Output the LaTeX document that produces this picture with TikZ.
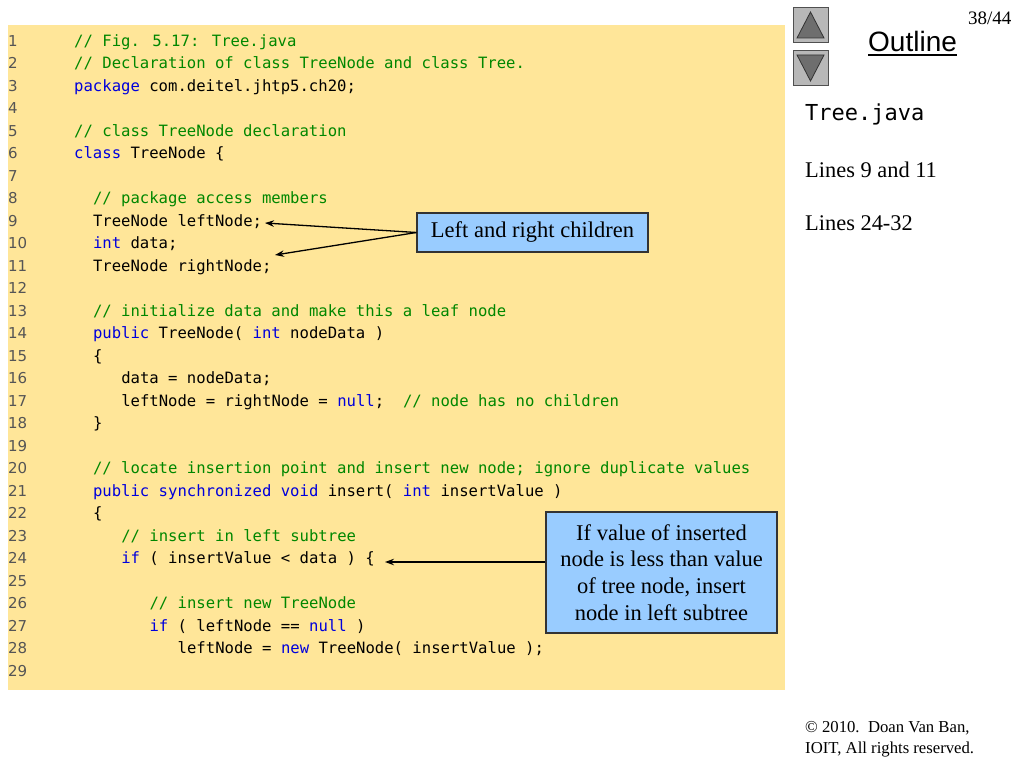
\documentclass[tikz,border=0pt]{standalone}
\usepackage{fontspec}
\setmainfont{Liberation Serif}
\newfontfamily\codefont{DejaVu Sans Mono}
\newfontfamily\numfont{DejaVu Sans}
\newfontfamily\arialfont{Liberation Sans}
\usetikzlibrary{arrows.meta}
\definecolor{panel}{HTML}{FFE699}
\definecolor{kwblue}{RGB}{0,0,220}
\definecolor{cmgreen}{RGB}{0,135,0}
\definecolor{callout}{HTML}{99CCFF}
\definecolor{lngray}{HTML}{555555}
\definecolor{btngray}{HTML}{B8B8B8}
\definecolor{trigray}{HTML}{6E6E6E}
\definecolor{btnedge}{HTML}{505050}
\newcommand\KW[1]{\textcolor{kwblue}{#1}}
\newcommand\CM[1]{\textcolor{cmgreen}{#1}}
\tikzset{
  codeline/.style={anchor=base west, inner sep=0pt, font=\codefont\fontsize{15.6}{18}\selectfont},
  lnum/.style={anchor=base west, inner sep=0pt, font=\numfont\fontsize{15}{18}\selectfont, text=lngray},
  callbox/.style={draw=black!80, line width=1.2pt, fill=callout, inner sep=0pt,
    font=\fontsize{22.5}{26.7}\selectfont, align=center},
  arr/.style={-{Stealth[length=9pt,width=6.5pt]}, line width=1.3pt},
  sidetext/.style={anchor=base west, inner sep=0pt, font=\fontsize{22.4}{26}\selectfont},
  smalltext/.style={anchor=base west, inner sep=0pt, font=\fontsize{16.7}{20}\selectfont},
  btn/.style={fill=btngray, draw=btnedge, line width=1pt},
  tri/.style={fill=trigray, draw=black!80, line width=0.8pt}
}
\begin{document}
\begin{tikzpicture}[x=1pt,y=-1pt]
\useasboundingbox (0,0) rectangle (1024,768);
\fill[white] (0,0) rectangle (1024,768);
\fill[panel] (8,25) rectangle (785,690);

% line numbers
\foreach \i in {1,...,29}{
  \node[lnum] (n\i) at (8,{46+(\i-1)*22.5}) {\i};
}

% code
\node[codeline] (l1) at (74,46) {\CM{// Fig. 5.17: Tree.java}};
\node[codeline] (l2) at (74,68.5) {\CM{// Declaration of class TreeNode and class Tree.}};
\node[codeline] (l3) at (74,91) {\KW{package} com.deitel.jhtp5.ch20;};
\node[codeline] (l5) at (74,136) {\CM{// class TreeNode declaration}};
\node[codeline] (l6) at (74,158.5) {\KW{class} TreeNode \{};
\node[codeline] (l8) at (92.8,203.5) {\CM{// package access members}};
\node[codeline] (l9) at (92.8,226) {TreeNode leftNode;};
\node[codeline] (l10) at (92.8,248.5) {\KW{int} data;};
\node[codeline] (l11) at (92.8,271) {TreeNode rightNode;};
\node[codeline] (l13) at (92.8,316) {\CM{// initialize data and make this a leaf node}};
\node[codeline] (l14) at (92.8,338.5) {\KW{public} TreeNode( \KW{int} nodeData )};
\node[codeline] (l15) at (92.8,361) {\{};
\node[codeline] (l16) at (121.05,383.5) {data = nodeData;};
\node[codeline] (l17) at (121.05,406) {leftNode = rightNode = \KW{null};~~\CM{// node has no children}};
\node[codeline] (l18) at (92.8,428.5) {\}};
\node[codeline] (l20) at (92.8,473.5) {\CM{// locate insertion point and insert new node; ignore duplicate values}};
\node[codeline] (l21) at (92.8,496) {\KW{public} \KW{synchronized} \KW{void} insert( \KW{int} insertValue )};
\node[codeline] (l22) at (92.8,518.5) {\{};
\node[codeline] (l23) at (121.05,541) {\CM{// insert in left subtree}};
\node[codeline] (l24) at (121.05,563.5) {\KW{if} ( insertValue < data ) \{};
\node[codeline] (l26) at (149.3,608.5) {\CM{// insert new TreeNode}};
\node[codeline] (l27) at (149.3,631) {\KW{if} ( leftNode == \KW{null} )};
\node[codeline] (l28) at (177.5,653.5) {leftNode = \KW{new} TreeNode( insertValue );};

% callouts
\node[callbox, minimum width=231pt, minimum height=39pt] (c1) at (532.5,232.5) {Left and right children};
\node[callbox, minimum width=231pt, minimum height=121pt] (c2) at (661.5,572.5)
  {If value of inserted\\node is less than value\\of tree node, insert\\node in left subtree};

\coordinate (t9) at (265,223);
\coordinate (t11) at (275,255);
\coordinate (t24) at (385,562);
\draw[arr] (c1.west) -- (t9);
\draw[arr] (c1.west) -- (t11);
\draw[arr] (c2.west |- t24) -- (t24);

% navigation buttons
\filldraw[btn] (793,8) rectangle (828,43);
\filldraw[tri] (810.5,12) -- (797,38) -- (824,38) -- cycle;
\filldraw[btn] (793,51) rectangle (828,85);
\filldraw[tri] (797,55) -- (824,55) -- (810.5,81) -- cycle;

% header
\node[anchor=base west, inner sep=0pt, font=\arialfont\fontsize{28}{32}\selectfont] (ol) at (868,52) {Outline};
\draw[line width=1.6pt] ([yshift=-3pt]ol.base west) -- ([yshift=-3pt]ol.base east);
\node[anchor=base west, inner sep=0pt, font=\fontsize{19}{22}\selectfont] (pg) at (968,25) {38/44};

% side notes
\node[anchor=base west, inner sep=0pt, font=\codefont\fontsize{22}{26}\selectfont] (tj) at (805,120) {Tree.java};
\node[sidetext] (s1) at (805,177) {Lines 9 and 11};
\node[sidetext] (s2) at (805,230) {Lines 24-32};

% footer
\node[smalltext] (f1) at (805,732) {© 2010.~~Doan Van Ban,};
\node[smalltext] (f2) at (805,753) {IOIT, All rights reserved.};
\end{tikzpicture}
\end{document}
